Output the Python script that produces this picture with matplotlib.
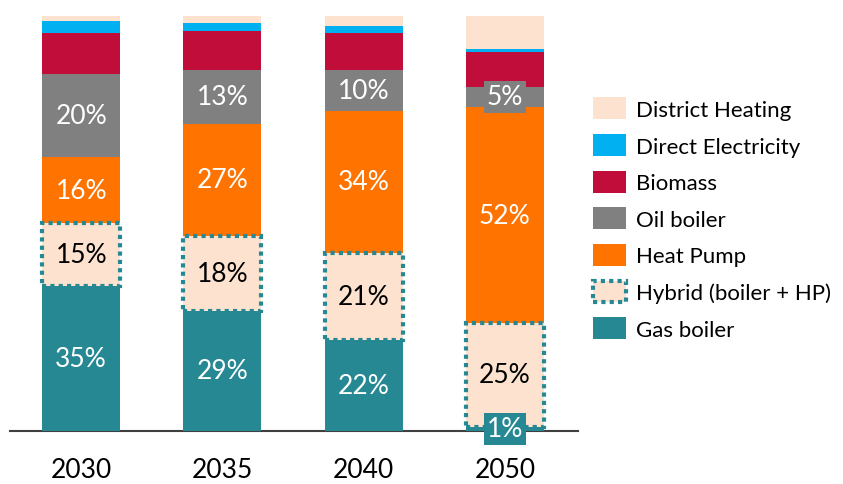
import matplotlib
matplotlib.use("Agg")
import matplotlib.pyplot as plt
from matplotlib.patches import Patch

plt.rcParams['font.family'] = ['Lato', 'DejaVu Sans']

years = ['2030', '2035', '2040', '2050']

# shares in %, bottom to top
gas_boiler = [35, 29, 22, 1]
hybrid = [15, 18, 21, 25]
heat_pump = [16, 27, 34, 52]
oil_boiler = [20, 13, 10, 5]
biomass = [10, 9.3, 9, 8.3]
direct_elec = [2.7, 2, 1.5, 0.8]
district_heat = [1.3, 1.7, 2.5, 7.9]

names = ['Gas boiler', 'Hybrid (boiler + HP)', 'Heat Pump', 'Oil boiler',
         'Biomass', 'Direct Electricity', 'District Heating']
series = [gas_boiler, hybrid, heat_pump, oil_boiler, biomass, direct_elec, district_heat]
colors = ['#258893', '#FDE3CF', '#FF7300', '#808080', '#C00D3A', '#00B0F0', '#FDE3CF']
labelled = [True, True, True, True, False, False, False]
text_colors = ['white', 'black', 'white', 'white', None, None, None]

teal = '#258893'

fig = plt.figure(figsize=(8.43, 4.85), dpi=100)
ax = fig.add_axes([0.0119, 0.1093, 0.6738, 0.8557])

x = list(range(len(years)))
width = 0.553
bottom = [0.0] * len(years)
handles = []
for i, (name, vals, col) in enumerate(zip(names, series, colors)):
    if i == 1:
        bars = ax.bar(x, vals, width, bottom=bottom, color=col, edgecolor=teal,
                      linewidth=3, linestyle=(0, (1, 1)), zorder=3)
        handles.append(Patch(facecolor=col, edgecolor=teal, linewidth=3,
                             linestyle=(0, (1, 1)), label=name))
    else:
        bars = ax.bar(x, vals, width, bottom=bottom, color=col, linewidth=0, zorder=2)
        handles.append(Patch(facecolor=col, label=name))
    if labelled[i]:
        for xi, v, b in zip(x, vals, bottom):
            kw = {}
            if v < 6:
                kw['bbox'] = dict(boxstyle='square,pad=0.12', facecolor=col, edgecolor='none')
            ax.text(xi, b + v / 2, f"{v:.0f}%", ha='center', va='center',
                    fontsize=19, color=text_colors[i], zorder=5, **kw)
    bottom = [b + v for b, v in zip(bottom, vals)]

ax.set_xlim(-0.504, 3.518)
ax.set_ylim(0, 100)
ax.set_xticks(x)
ax.set_xticklabels(years, fontsize=19)
ax.tick_params(axis='x', length=0, pad=19)
ax.set_yticks([])
for s in ['top', 'right', 'left']:
    ax.spines[s].set_visible(False)
ax.spines['bottom'].set_color('#404040')
ax.spines['bottom'].set_linewidth(1.5)
ax.spines['bottom'].set_zorder(1)

fig.legend(handles=handles[::-1], loc='upper left', bbox_to_anchor=(0.7034, 0.797),
           frameon=False, fontsize=16, handlelength=1.49, handleheight=1.13,
           labelspacing=0.64, handletextpad=0.45, borderpad=0, borderaxespad=0)

fig.savefig('out.png', dpi=100)
